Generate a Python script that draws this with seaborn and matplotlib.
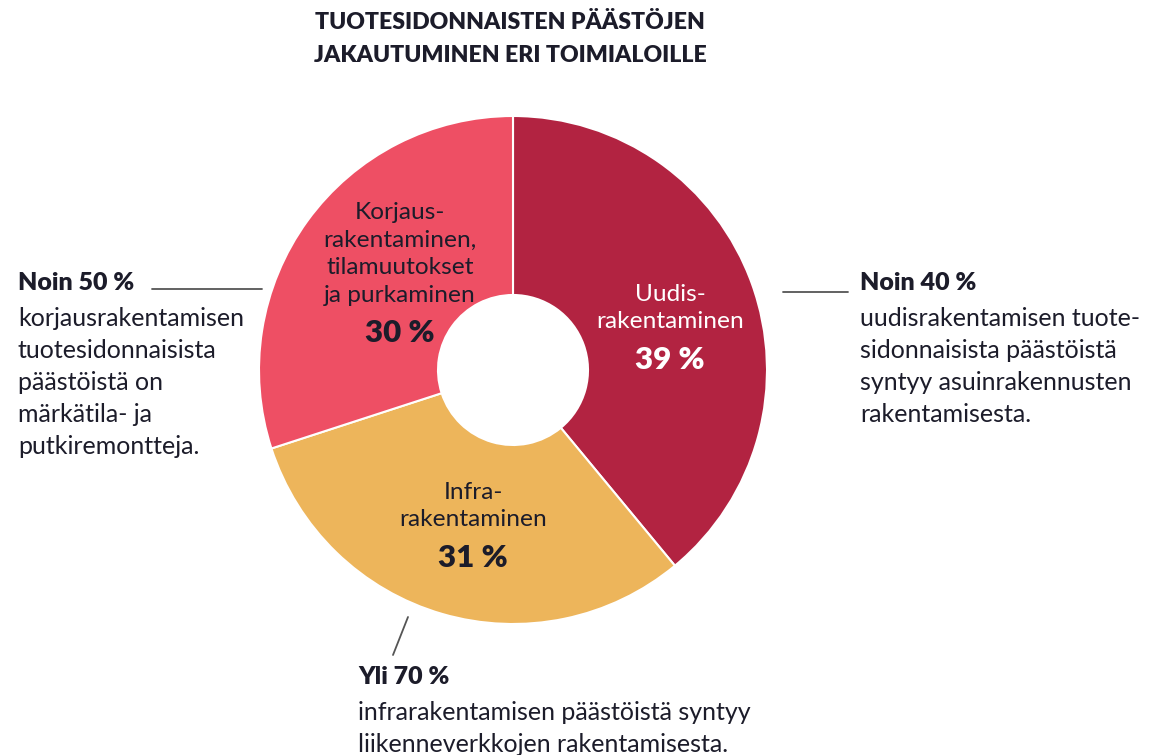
import matplotlib
matplotlib.use("Agg")
import matplotlib.pyplot as plt
import seaborn as sns

sns.set_theme(style="white")
plt.rcParams['font.family'] = ['Lato', 'DejaVu Sans']

# Data
categories = ["Uudisrakentaminen", "Infrarakentaminen", "Korjausrakentaminen"]
values = [39, 31, 30]
colors = ["#B22341", "#EDB55B", "#EE4F64"]
slice_labels = [
    ("Uudis-\nrakentaminen", "39 %"),
    ("Infra-\nrakentaminen", "31 %"),
    ("Korjaus-\nrakentaminen,\ntilamuutokset\nja purkaminen", "30 %"),
]
title_lines = "TUOTESIDONNAISTEN PÄÄSTÖJEN\nJAKAUTUMINEN ERI TOIMIALOILLE"
notes = [
    ("Noin 50 %", "korjausrakentamisen\ntuotesidonnaisista\npäästöistä on\nmärkätila- ja\nputkiremontteja."),
    ("Noin 40 %", "uudisrakentamisen tuote-\nsidonnaisista päästöistä\nsyntyy asuinrakennusten\nrakentamisesta."),
    ("Yli 70 %", "infrarakentamisen päästöistä syntyy\nliikenneverkkojen rakentamisesta."),
]

W, H = 1151, 755
fig = plt.figure(figsize=(W / 100, H / 100), dpi=100)
ax = fig.add_axes([0, 0, 1, 1])
ax.set_xlim(0, W)
ax.set_ylim(0, H)
ax.set_aspect('equal')
ax.axis('off')

def py(y):
    return H - y

cx, cy, R, r_in = 513, 370, 254, 75
ax.pie(values, colors=colors, startangle=90, counterclock=False,
       center=(cx, py(cy)), radius=R, frame=True,
       wedgeprops=dict(width=R - r_in, edgecolor='white', linewidth=1.5))
ax.set_xlim(0, W)
ax.set_ylim(0, H)
ax.axis('off')

dark = "#1c1c2a"
FS = 18
# Title
ax.text(510, py(39), title_lines, ha='center', va='center', fontsize=16.6,
        fontweight='heavy', color=dark, linespacing=1.68)

# Slice labels
pos = [(670, 308, 360, 'white'), (473, 506, 558, dark), (400, 254, 333, dark)]
for (lab, pct), (x, yl, yp, c) in zip(slice_labels, pos):
    ax.text(x, py(yl), lab, ha='center', va='center', fontsize=17.6, color=c,
            linespacing=1.38)
    ax.text(x, py(yp), pct, ha='center', va='center', fontsize=22.5,
            fontweight='heavy', color=c)

# Notes
def note(x, y, head, body):
    ax.text(x, py(y), head, ha='left', va='center', fontsize=FS,
            fontweight='heavy', color=dark)
    ax.text(x, py(y + 24), body, ha='left', va='top', fontsize=FS,
            color=dark, linespacing=1.47)

note(18, 283, *notes[0])
note(860, 283, *notes[1])
note(358, 677, *notes[2])

lc = "#555555"
ax.plot([152, 262], [py(289), py(289)], color=lc, lw=1.3)
ax.plot([783, 848], [py(292), py(292)], color=lc, lw=1.3)
ax.plot([408, 393], [py(617), py(655)], color=lc, lw=1.3)

fig.savefig("out.png", dpi=100)
